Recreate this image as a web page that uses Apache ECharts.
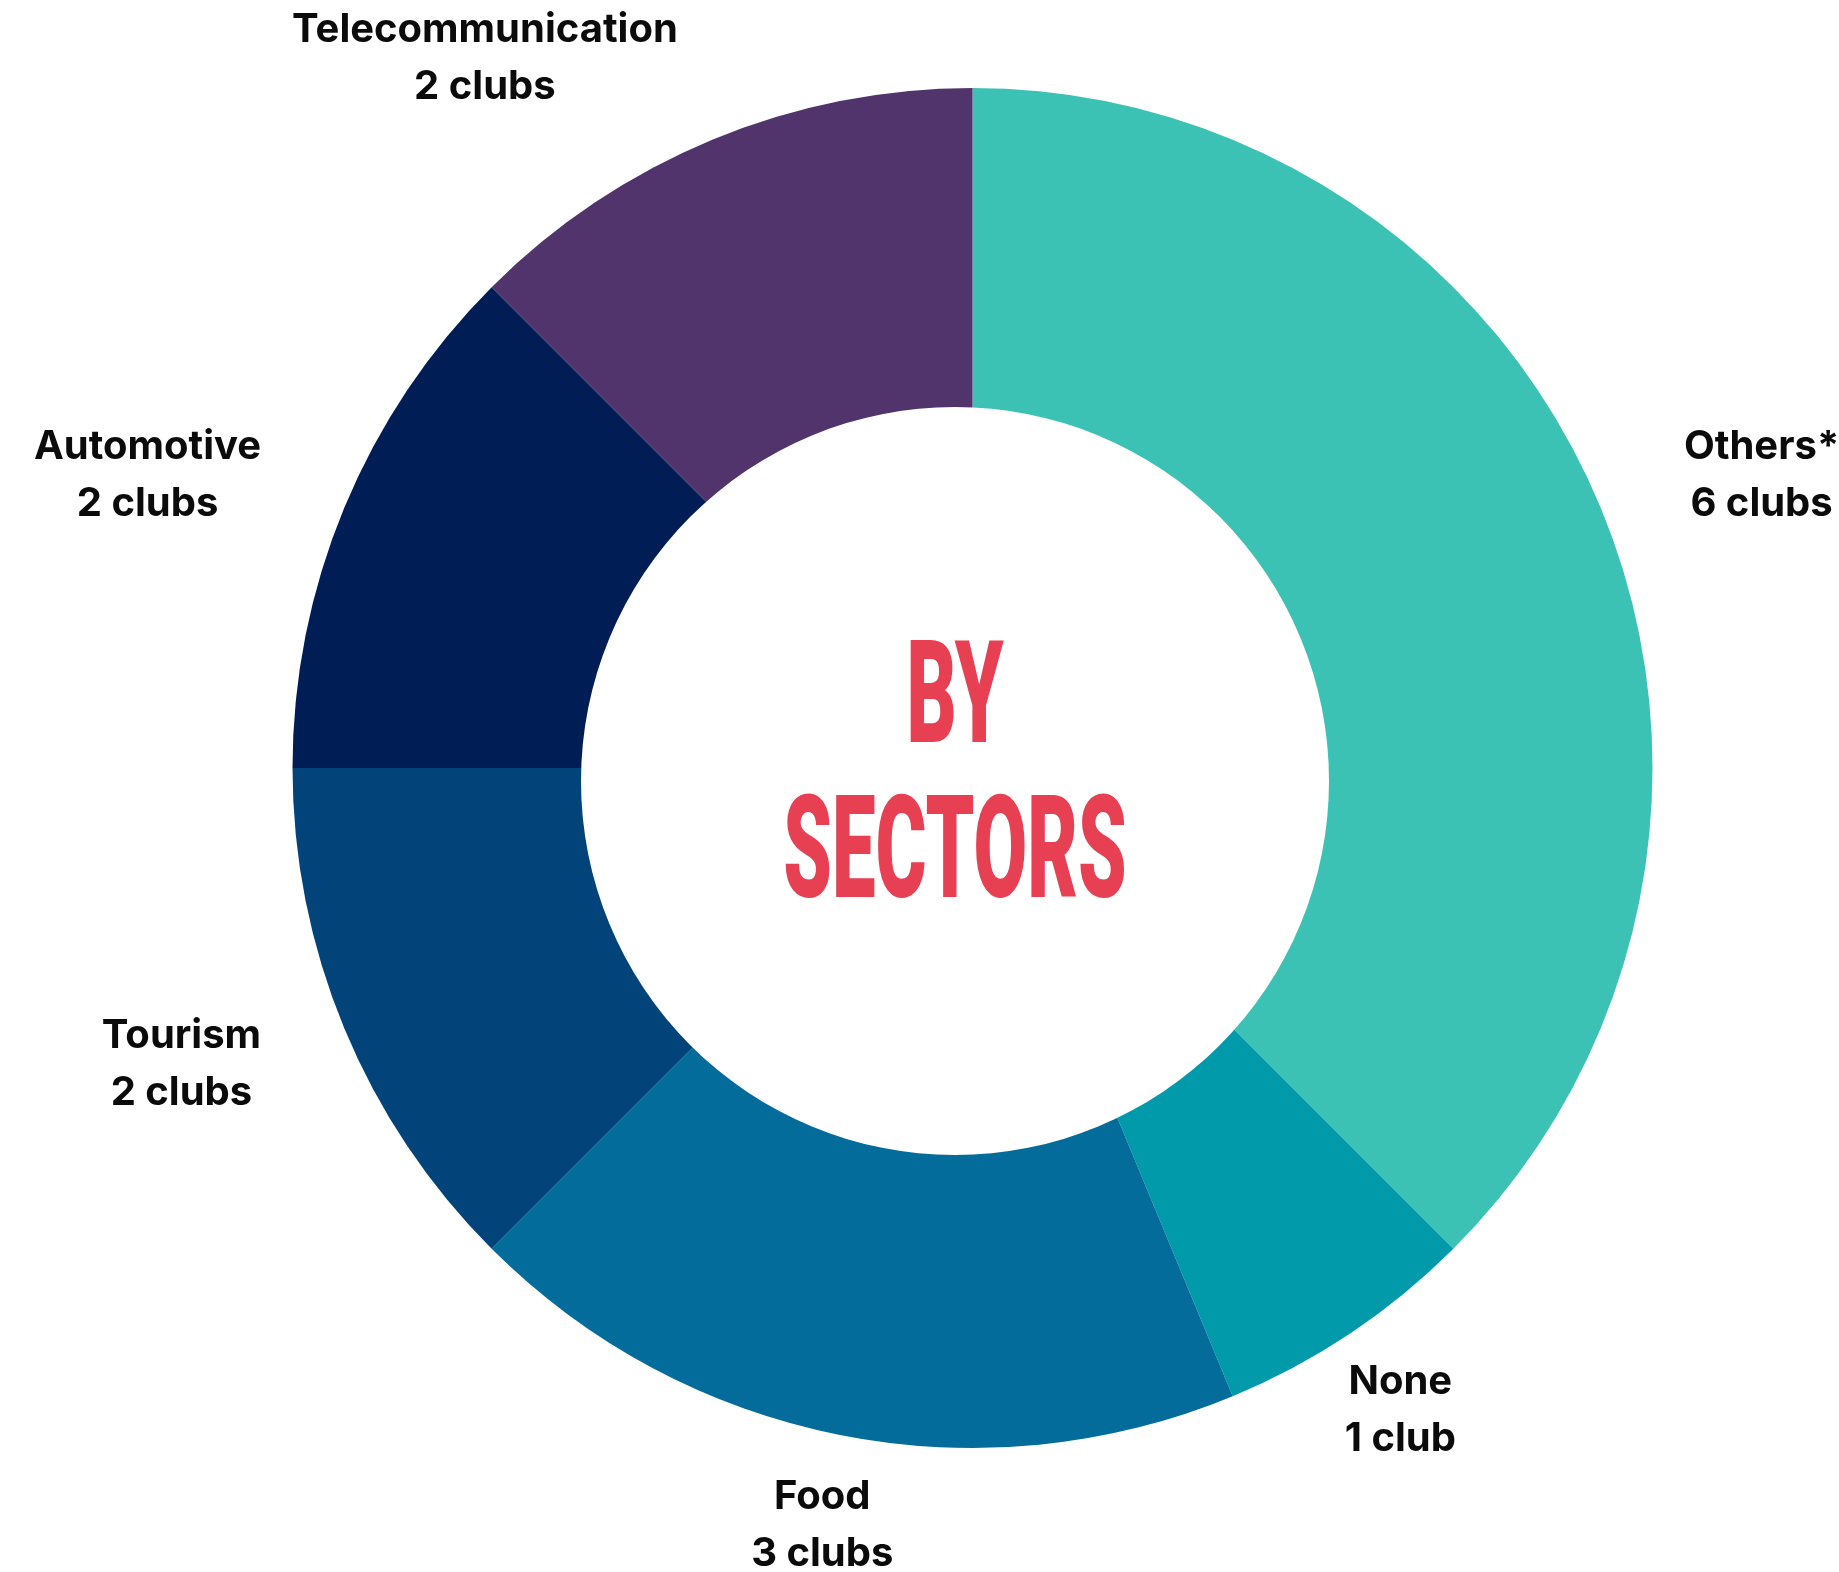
<!DOCTYPE html>
<html>
<head>
<meta charset="utf-8">
<title>By sectors</title>
<script src="https://cdn.jsdelivr.net/npm/echarts@6.0.0/dist/echarts.min.js"></script>
<style>
  html, body { margin: 0; padding: 0; background: #fff; }
  #sectors { width: 1839px; height: 1572px; }
</style>
</head>
<body>
<div id="sectors"></div>
<script>
const sectorNames = ['Others*', 'None', 'Food', 'Tourism', 'Automotive', 'Telecommunication'];
const clubCounts = [6, 1, 3, 2, 2, 2];
const sectorColors = ['#3cc2b5', '#019aab', '#036c9a', '#02447a', '#001e55', '#51346c'];

const chart = echarts.init(document.getElementById('sectors'));

// pie geometry in px
const cx = 972.5, cy = 768, outerR = 680;
const labelR = 770;
// the hole is a bit off centre in the original
const holeX = 955, holeY = 781, holeR = 374;

const total = clubCounts.reduce((a, b) => a + b, 0);

// middle angle of a slice, starting at 12 o'clock and going clockwise
function midAngle(i) {
  let before = 0;
  for (let k = 0; k < i; k++) before += clubCounts[k];
  return (90 - 360 * (before + clubCounts[i] / 2) / total) * Math.PI / 180;
}

const titleStyle = {
  fontFamily: 'Roboto', fontWeight: 900, fontSize: 142,
  fill: '#e84053', align: 'center', verticalAlign: 'middle',
  textAlign: 'center', textVerticalAlign: 'middle'
};

const option = {
  animation: false,
  series: [
    {
      type: 'pie',
      center: [cx, cy],
      radius: [0, outerR],
      startAngle: 90,
      clockwise: true,
      silent: true,
      itemStyle: { borderWidth: 0 },
      label: {
        show: true,
        position: 'outside',
        formatter: p => p.name + '\n' + p.value + (p.value === 1 ? ' club' : ' clubs'),
        fontFamily: 'Inter',
        fontWeight: 'bold',
        fontSize: 40,
        lineHeight: 57,
        color: '#0b0b0b'
      },
      labelLine: { show: false },
      labelLayout: function (p) {
        const a = midAngle(p.dataIndex);
        const dx = Math.cos(a), dy = -Math.sin(a);
        let x = cx + labelR * dx;
        const y = cy + labelR * dy + 2;
        // side labels hang off their inner edge, bottom ones are centred
        if (dy < 0.7) x += (dx < 0 ? -1 : 1) * p.labelRect.width / 2;
        return { x: x, y: y, align: 'center', verticalAlign: 'middle' };
      },
      data: sectorNames.map((n, i) => ({
        name: n,
        value: clubCounts[i],
        itemStyle: { color: sectorColors[i] }
      }))
    }
  ],
  graphic: [
    {
      type: 'circle',
      z: 100,
      silent: true,
      shape: { cx: holeX, cy: holeY, r: holeR },
      style: { fill: '#ffffff' }
    },
    {
      type: 'group',
      x: holeX,
      y: holeY,
      scaleX: 0.548,
      z: 101,
      children: [
        {
          type: 'text',
          z: 101,
          style: Object.assign({ text: 'BY', x: 0, y: -75 }, titleStyle)
        },
        {
          type: 'text',
          z: 101,
          style: Object.assign({ text: 'SECTORS', x: 0, y: 80 }, titleStyle)
        }
      ]
    }
  ]
};

chart.setOption(option);
</script>
</body>
</html>
